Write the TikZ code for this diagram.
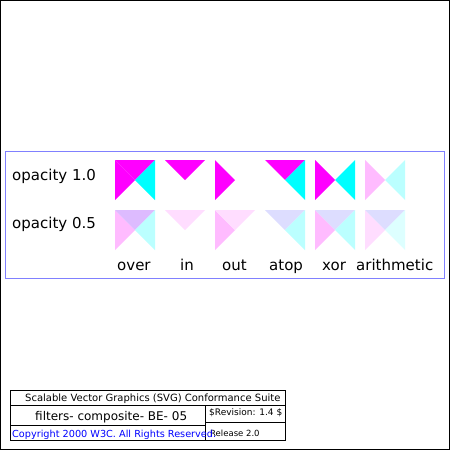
\documentclass[tikz,border=0pt]{standalone}
\usepackage{fontspec}
\setmainfont{DejaVu Sans}
\definecolor{mag}{HTML}{FF00FF}
\definecolor{cya}{HTML}{00FFFF}
\definecolor{pinkA}{HTML}{FFBBFF}
\definecolor{pinkB}{HTML}{FFDDFF}
\definecolor{lilac}{HTML}{DDBBFF}
\definecolor{lav}{HTML}{DDDDFF}
\definecolor{cyanA}{HTML}{BBFFFF}
\definecolor{cyanB}{HTML}{DDFFFF}
\definecolor{frameblue}{HTML}{8080FF}
\newcommand\trileft[3]{\fill[#3] (#1,#2) -- ++(0,40) -- ++(20,-20) -- cycle;}
\newcommand\tritop[3]{\fill[#3] (#1,#2) -- ++(40,0) -- ++(-20,20) -- cycle;}
\newcommand\triright[3]{\fill[#3] (#1+40,#2) -- ++(0,40) -- ++(-20,-20) -- cycle;}
\begin{document}
\begin{tikzpicture}[x=1pt,y=-1pt,
  lbl/.style={anchor=base west,inner sep=0pt,font=\fontsize{15}{18}\selectfont},
  small/.style={anchor=base west,inner sep=0pt},
  thinline/.style={draw=black,line width=1pt}]
\useasboundingbox (0,0) rectangle (450,450);
\fill[white] (0,0) rectangle (450,450);
\draw[thinline] (0.5,0.5) rectangle (449.5,449.5);
\draw[frameblue,line width=1pt] (5.5,151.5) rectangle (444.5,278.5);
% row 1
\trileft{115}{160}{mag}\tritop{115}{160}{mag}\triright{115}{160}{cya}
\tritop{165}{160}{mag}
\trileft{215}{160}{mag}
\tritop{265}{160}{mag}\triright{265}{160}{cya}
\trileft{315}{160}{mag}\triright{315}{160}{cya}
\trileft{365}{160}{pinkA}\triright{365}{160}{cyanA}
% row 2
\trileft{115}{210}{pinkA}\tritop{115}{210}{lilac}\triright{115}{210}{cyanA}
\tritop{165}{210}{pinkB}
\trileft{215}{210}{pinkA}\tritop{215}{210}{pinkB}
\tritop{265}{210}{lav}\triright{265}{210}{cyanA}
\trileft{315}{210}{pinkA}\tritop{315}{210}{lav}\triright{315}{210}{cyanA}
\trileft{365}{210}{pinkB}\tritop{365}{210}{lav}\triright{365}{210}{cyanB}
% labels
\node[lbl] (op1) at (12,180) {opacity 1.0};
\node[lbl] (op2) at (12,228) {opacity 0.5};
\node[lbl] (lover) at (117,270) {over};
\node[lbl] (lin) at (180,270) {in};
\node[lbl] (lout) at (222,270) {out};
\node[lbl] (latop) at (269,270) {atop};
\node[lbl] (lxor) at (322,270) {xor};
\node[lbl] (larith) at (356,270) {arithmetic};
% footer
\draw[thinline] (10,390) rectangle (285,440);
\draw[thinline] (10,405) -- (285,405);
\draw[thinline] (10,425) -- (205,425);
\draw[thinline] (205,405) -- (205,440);
\draw[thinline] (205,422) -- (285,422);
\node[small,font=\fontsize{10}{12}\selectfont] (title) at (25,401) {Scalable Vector Graphics (SVG) Conformance Suite};
\node[small,font=\fontsize{12}{14}\selectfont] (name) at (35,420) {filters- composite- BE- 05};
\node[small,font=\fontsize{9}{11}\selectfont] (rev) at (209,415) {\$Revision: 1.4 \$};
\node[small,font=\fontsize{8.5}{10}\selectfont] (rel) at (210,436) {Release 2.0};
\node[small,font=\fontsize{9.7}{11}\selectfont,text=blue] (copy) at (12,437) {Copyright 2000 W3C. All Rights Reserved.};
\end{tikzpicture}
\end{document}
